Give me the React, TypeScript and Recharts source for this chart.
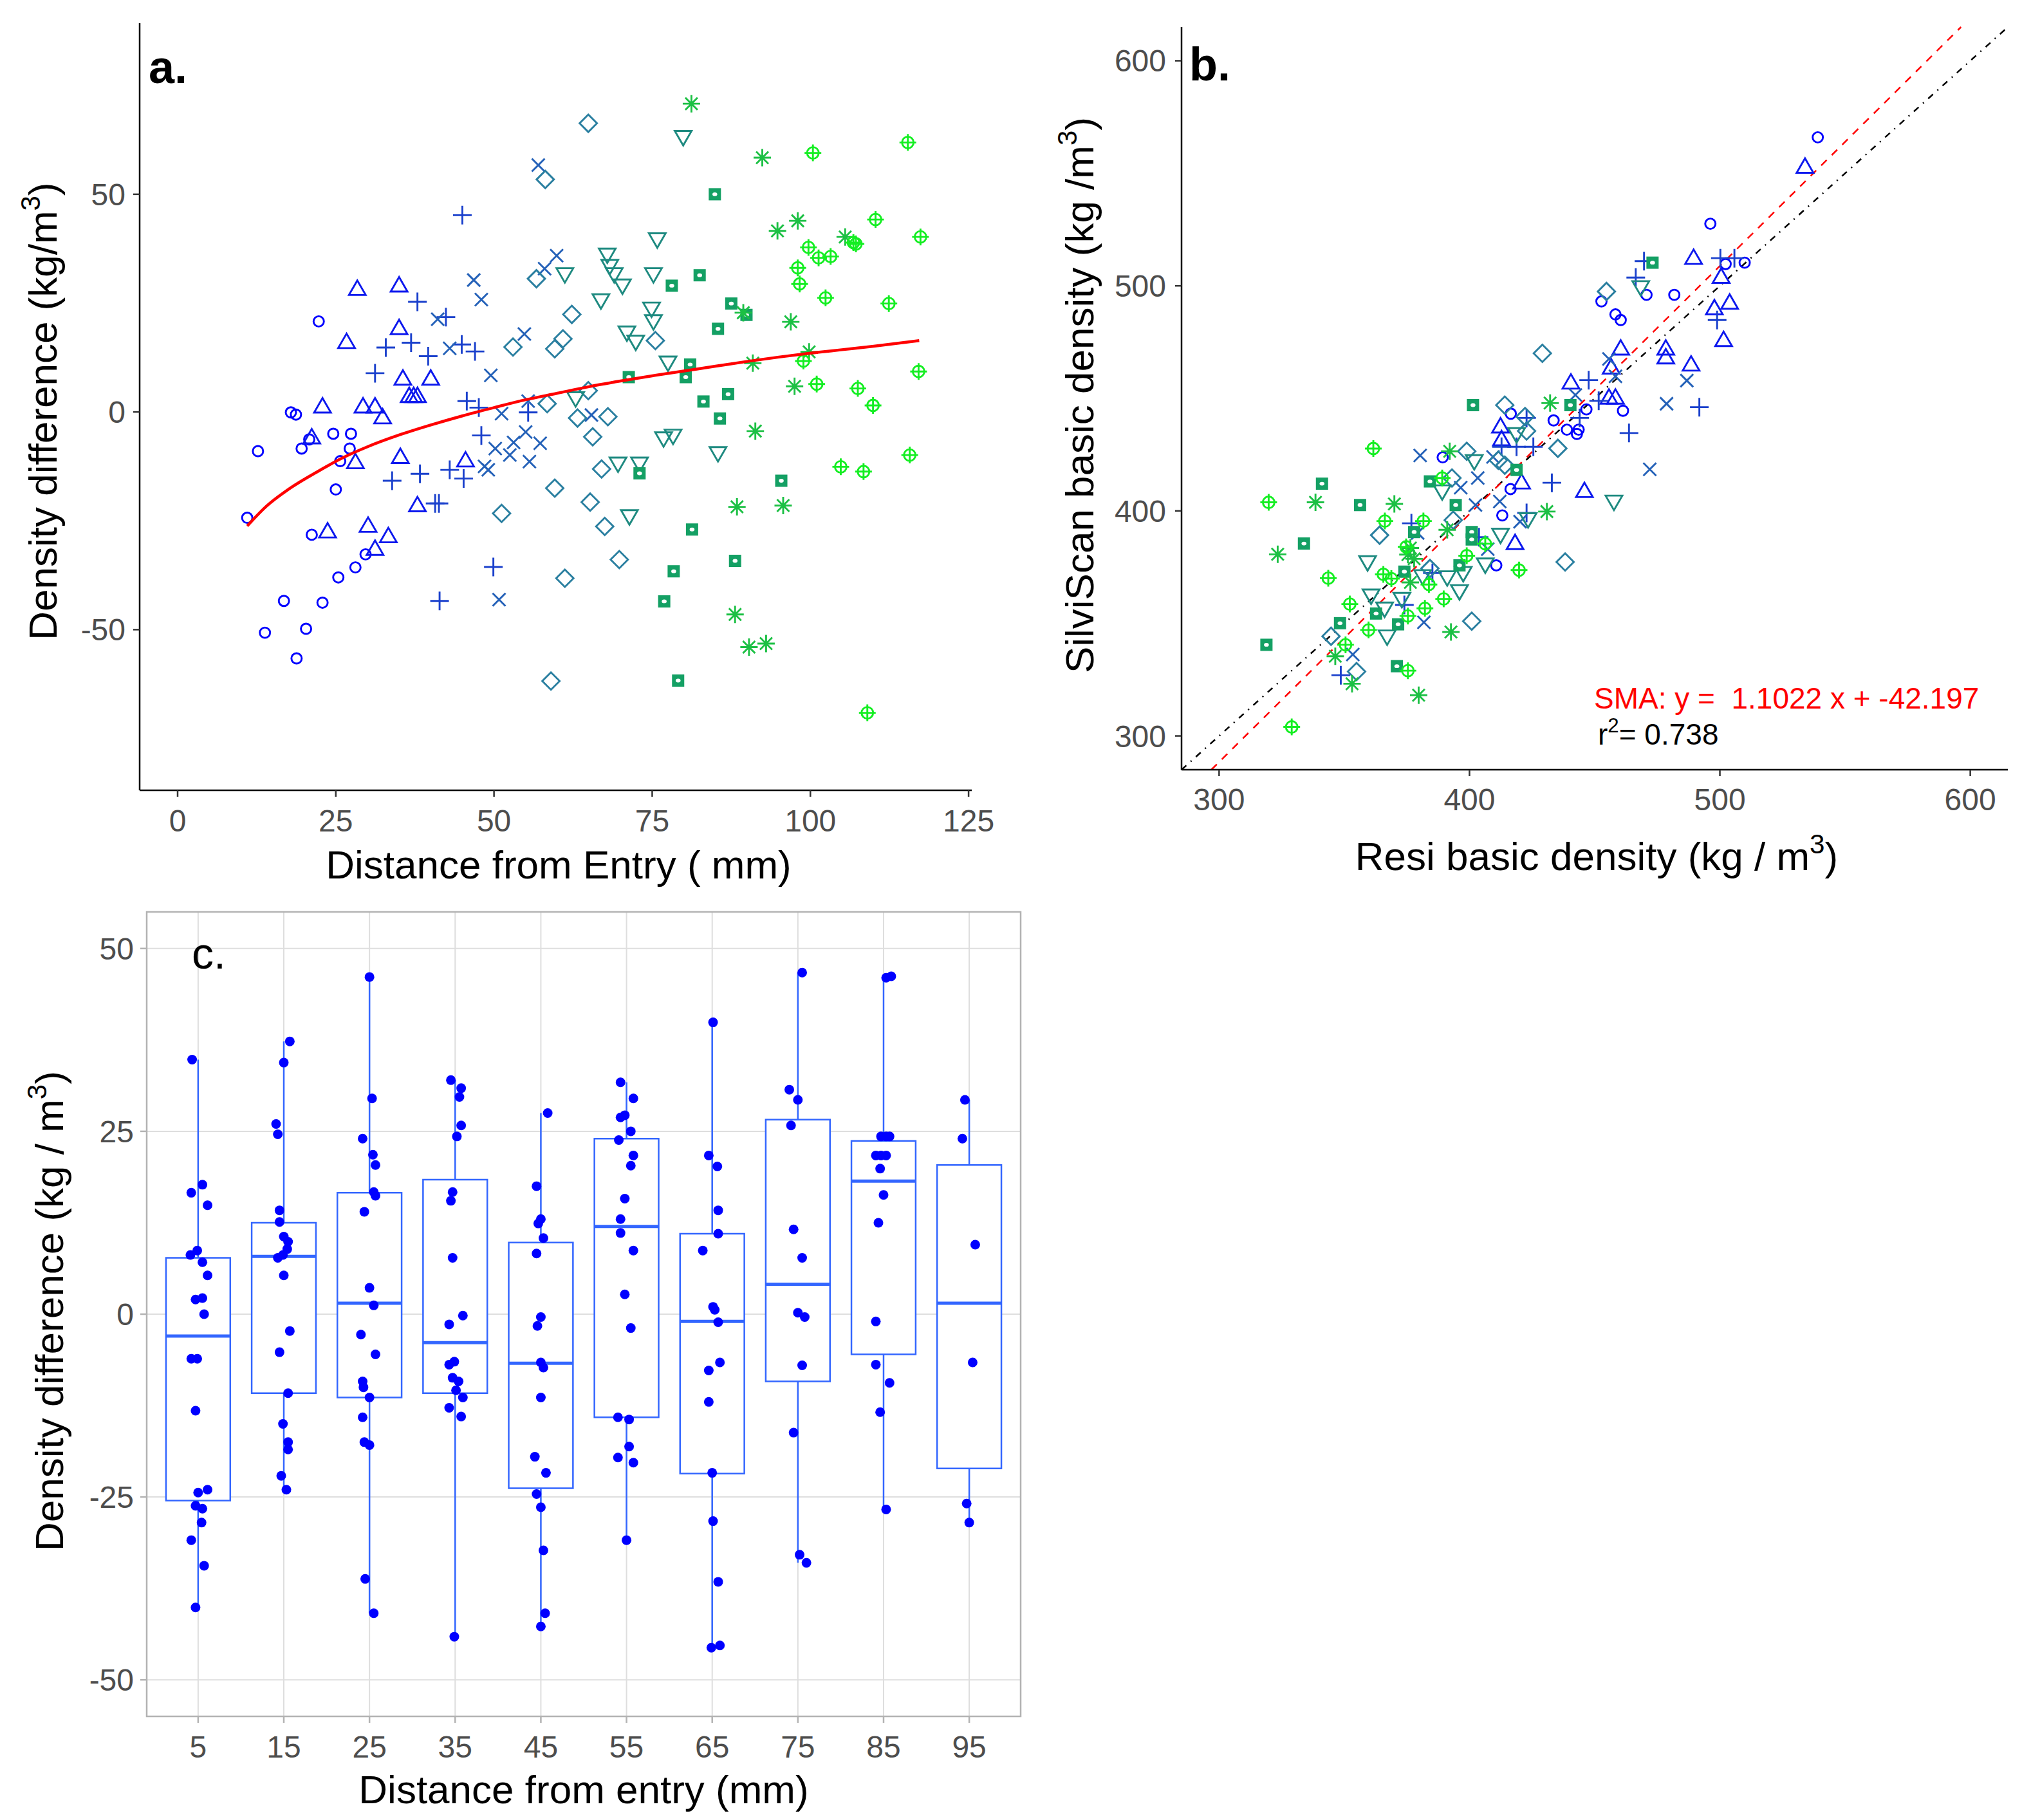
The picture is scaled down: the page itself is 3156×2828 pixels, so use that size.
import { ScatterChart, Scatter, XAxis, YAxis, CartesianGrid, ReferenceLine, ReferenceArea } from 'recharts';

const FONT = '"Liberation Sans", Arial, sans-serif';
const TICK_GREY = '#4D4D4D';

// ---- panel a: distance from entry (mm) vs density difference (kg/m3), one list per marker group
const aCircle = [[11.0, -24.3], [12.7, -9.0], [22.3, 20.8], [17.9, -0.1], [18.7, -0.6], [19.6, -8.4], [20.8, -6.3], [24.6, -5.0], [27.4, -5.0], [27.2, -8.4], [25.7, -11.3], [25.0, -17.8], [21.2, -28.2], [29.7, -32.7], [28.1, -35.7], [25.4, -38.0], [16.8, -43.4], [22.9, -43.8], [13.8, -50.7], [20.3, -49.8], [18.8, -56.6]];
const aTriangle = [[28.4, 28.2], [35.0, 29.0], [35.0, 19.2], [26.7, 16.0], [35.6, 7.6], [40.0, 7.6], [36.6, 3.6], [37.3, 3.6], [37.9, 3.6], [22.9, 1.2], [29.3, 1.2], [31.2, 1.2], [32.4, -1.3], [21.2, -5.9], [28.1, -11.6], [35.2, -10.4], [45.5, -11.2], [37.9, -21.5], [23.7, -27.5], [30.1, -26.2], [33.3, -28.6], [31.2, -31.5]];
const aPlus = [[45.0, 45.2], [37.9, 25.3], [42.4, 21.8], [32.9, 14.8], [36.9, 15.9], [39.6, 12.8], [44.9, 15.5], [47.0, 13.9], [31.2, 8.9], [45.7, 2.5], [47.6, 1.0], [55.4, -0.1], [48.0, -5.4], [33.9, -15.8], [38.3, -14.2], [43.0, -13.3], [45.2, -15.3], [40.7, -21.0], [41.3, -21.0], [49.9, -35.6], [41.4, -43.4]];
const aCross = [[57.0, 56.7], [59.9, 35.9], [58.0, 32.9], [46.8, 30.3], [48.0, 25.8], [41.1, 21.3], [54.8, 17.9], [43.0, 14.6], [49.5, 8.4], [55.4, 2.5], [51.2, -0.4], [55.0, -4.6], [53.1, -7.0], [50.2, -8.4], [52.5, -9.9], [57.3, -7.2], [55.6, -11.4], [48.5, -12.5], [49.1, -13.3], [50.8, -43.1], [65.4, -0.7]];
const aDiamond = [[64.9, 66.3], [58.1, 53.4], [56.7, 30.6], [62.3, 22.4], [53.0, 14.9], [59.6, 14.5], [60.9, 16.8], [75.5, 16.4], [58.4, 1.9], [64.9, 4.9], [63.2, -1.4], [68.0, -1.1], [65.6, -5.7], [51.2, -23.3], [59.6, -17.5], [59.0, -61.8], [67.0, -13.1], [65.2, -20.7], [67.5, -26.3], [69.8, -33.9], [61.2, -38.2]];
const aTriDown = [[79.9, 63.2], [75.8, 39.7], [67.9, 36.2], [68.3, 33.6], [69.0, 31.7], [70.3, 29.1], [61.2, 31.7], [75.2, 31.7], [66.9, 25.7], [74.9, 23.8], [75.2, 20.9], [71.0, 18.3], [72.4, 16.2], [77.5, 11.4], [62.9, 3.2], [76.8, -6.0], [78.3, -5.4], [85.4, -9.4], [69.6, -11.8], [73.0, -11.8], [71.4, -23.9]];
const aSquare = [[84.9, 50.0], [82.5, 31.4], [78.1, 29.0], [87.5, 24.9], [89.9, 22.3], [85.4, 19.1], [71.3, 8.0], [81.0, 10.9], [80.3, 8.0], [87.0, 4.1], [83.1, 2.4], [85.7, -1.5], [73.0, -14.1], [95.4, -15.8], [81.3, -27.0], [88.1, -34.2], [78.4, -36.6], [76.9, -43.5], [79.1, -61.7]];
const aAsterisk = [[81.2, 70.8], [92.4, 58.4], [94.8, 41.6], [98.0, 43.9], [105.5, 40.2], [89.4, 22.8], [96.9, 20.7], [90.9, 11.2], [99.8, 13.8], [97.5, 5.9], [91.3, -4.4], [88.4, -21.8], [95.7, -21.5], [88.1, -46.5], [90.3, -54.0], [93.0, -53.2]];
const aCirclePlus = [[100.4, 59.5], [115.4, 61.9], [110.3, 44.2], [117.4, 40.2], [99.7, 37.8], [101.3, 35.4], [103.2, 35.7], [106.8, 38.9], [107.2, 38.6], [98.0, 33.1], [98.3, 29.4], [102.4, 26.2], [112.4, 24.9], [98.9, 11.7], [117.1, 9.3], [101.0, 6.4], [107.5, 5.4], [109.9, 1.5], [104.8, -12.6], [108.4, -13.7], [115.7, -9.9], [109.0, -69.1]];

// red fitted curve
const aCurveX = [11, 14, 18, 22, 26, 30, 35, 40, 45, 50, 55, 60, 65, 70, 75, 80, 85, 90, 95, 100, 105, 110, 117.2];
const aCurveY = [-26.2, -21.7, -17.3, -13.8, -10.6, -8.0, -5.3, -3.0, -0.9, 1.0, 2.8, 4.3, 5.8, 7.1, 8.3, 9.4, 10.5, 11.6, 12.6, 13.5, 14.3, 15.1, 16.4];

const aXTicks = [0, 25, 50, 75, 100, 125];
const aYTicks = [-50, 0, 50];

// ---- panel b: Resi basic density vs SilviScan basic density (kg/m3)
const bCircle = [[539.1, 566.0], [496.2, 527.6], [502.3, 509.7], [509.9, 510.3], [470.7, 496.0], [481.8, 496.0], [452.7, 493.1], [458.3, 487.3], [460.4, 484.8], [416.5, 443.2], [433.6, 440.2], [438.9, 436.1], [443.6, 436.1], [442.9, 434.2], [446.7, 445.1], [461.3, 444.5], [416.4, 409.7], [413.1, 398.0], [389.3, 423.8], [410.7, 375.8]];
const bTriangle = [[534.0, 552.8], [489.5, 512.3], [500.5, 503.9], [497.8, 489.9], [503.9, 492.4], [501.5, 475.8], [460.4, 472.0], [478.4, 472.0], [478.4, 468.1], [488.5, 464.9], [456.6, 463.6], [440.5, 456.9], [455.7, 450.2], [458.3, 450.2], [412.4, 437.4], [412.8, 431.7], [420.8, 412.5], [445.9, 408.7], [418.2, 385.6]];
const bPlus = [[469.7, 511.0], [500.2, 512.3], [505.8, 512.3], [466.4, 503.7], [498.9, 484.8], [447.6, 458.1], [451.6, 448.9], [444.0, 441.3], [422.8, 441.3], [412.8, 428.5], [418.8, 428.5], [425.5, 428.5], [491.8, 446.1], [463.7, 434.6], [432.9, 412.5], [422.8, 399.1], [376.8, 394.5], [403.8, 388.3], [374.0, 358.2], [385.2, 372.4], [348.6, 327.0]];
const bCross = [[486.8, 457.9], [478.7, 447.6], [472.0, 418.5], [458.3, 459.8], [455.7, 467.5], [442.3, 451.5], [412.1, 404.2], [420.2, 395.2], [409.4, 424.0], [380.3, 424.6], [403.3, 414.6], [396.5, 410.3], [402.4, 402.6], [379.3, 390.2], [407.3, 383.0], [381.8, 350.5], [353.4, 336.2]];
const bDiamond = [[454.7, 497.5], [429.1, 470.0], [414.1, 447.0], [435.3, 427.8], [422.2, 441.9], [422.8, 435.5], [398.9, 426.5], [414.1, 420.3], [411.5, 422.5], [393.0, 414.6], [393.5, 395.9], [364.1, 389.2], [384.2, 374.4], [438.2, 377.3], [400.9, 351.0], [354.9, 328.6], [344.7, 344.3]];
const bTriDown = [[468.4, 499.5], [418.8, 434.2], [457.7, 404.2], [412.4, 389.5], [401.9, 422.2], [389.1, 408.8], [423.4, 396.4], [359.3, 377.3], [406.3, 376.3], [381.3, 371.1], [391.1, 370.6], [397.5, 372.5], [396.0, 364.4], [360.7, 362.5], [366.1, 356.7], [373.0, 361.0], [367.1, 344.3]];
const bSquare = [[473.1, 510.3], [440.3, 447.0], [418.8, 418.2], [401.4, 447.0], [384.2, 413.1], [356.3, 402.6], [394.5, 402.6], [377.9, 390.6], [400.9, 390.6], [400.9, 387.3], [396.0, 375.8], [374.0, 373.0], [362.7, 354.4], [371.5, 349.6], [371.0, 331.0], [341.1, 412.1], [333.9, 385.5], [348.3, 350.1], [318.9, 340.5]];
const bAsterisk = [[432.2, 447.9], [430.9, 399.7], [392.1, 426.5], [370.0, 403.1], [391.1, 391.6], [376.4, 383.5], [375.4, 380.6], [376.4, 368.2], [392.6, 346.2], [377.9, 378.7], [338.5, 403.8], [323.4, 380.7], [346.4, 335.4], [353.1, 323.2], [379.7, 318.1]];
const bCirclePlus = [[319.8, 403.8], [361.6, 427.7], [366.2, 395.5], [381.6, 395.5], [389.1, 414.6], [398.9, 380.1], [343.6, 370.1], [352.2, 358.6], [365.6, 371.8], [368.8, 369.9], [389.7, 360.9], [375.4, 353.3], [359.7, 347.1], [350.5, 340.5], [375.4, 329.0], [419.8, 373.7], [329.0, 304.0], [383.8, 367.3], [374.7, 384.0], [382.2, 356.7], [406.3, 385.4]];

// SMA line (y = 1.1022x - 42.197) and 1:1 line, end points at the panel edges
const bSmaLine = [{ x: 296.9, y: 285 }, { x: 596.3, y: 615 }];
const bOneToOne = [{ x: 285, y: 285 }, { x: 615, y: 615 }];
const bTicks = [300, 400, 500, 600];

// ---- panel c: boxplots by distance from entry
const cCategories = ['5', '15', '25', '35', '45', '55', '65', '75', '85', '95'];
const cLow = [-39.9, -24.0, -40.9, -44.2, -42.7, -30.9, -45.6, -34.0, -26.8, -28.5];
const cQ1 = [-25.5, -10.8, -11.4, -10.8, -23.8, -14.1, -21.8, -9.2, -5.5, -21.1];
const cMedian = [-3.0, 7.9, 1.5, -3.9, -6.7, 12.0, -1.0, 4.1, 18.2, 1.5];
const cQ3 = [7.7, 12.5, 16.6, 18.4, 9.8, 24.0, 11.0, 26.6, 23.7, 20.4];
const cHigh = [34.8, 37.3, 46.1, 32.0, 27.5, 31.7, 39.9, 46.7, 46.1, 29.3];
const cYTicks = [-50, -25, 0, 25, 50];

// jittered points: [offset from category, density difference]
const c05 = [[-0.07, 34.8], [-0.08, 16.6], [0.05, 17.7], [0.11, 14.9], [-0.09, 8.1], [-0.01, 8.7], [0.05, 7.1], [0.11, 5.3], [-0.03, 2.0], [0.05, 2.2], [0.07, 0.0], [-0.08, -6.1], [-0.01, -6.1], [-0.03, -13.2], [0, -24.4], [0.11, -24.0], [-0.03, -26.2], [0.05, -26.6], [0.04, -28.5], [-0.08, -30.9], [0.07, -34.4], [-0.03, -40.1]];
const c15 = [[0.07, 37.3], [0, 34.4], [-0.09, 26.0], [-0.07, 24.6], [-0.05, 14.2], [-0.05, 12.6], [0, 10.6], [0.05, 9.9], [0.04, 8.9], [-0.01, 8.1], [-0.07, 7.7], [0, 5.3], [0.07, -2.3], [-0.05, -5.2], [0.05, -10.8], [-0.01, -15.0], [0.05, -17.5], [0.05, -18.5], [-0.03, -22.1], [0.03, -24.0]];
const c25 = [[0, 46.1], [0.03, 29.5], [-0.08, 24.0], [0.04, 21.8], [0.07, 20.4], [0.05, 16.7], [0.07, 16.2], [-0.06, 14.0], [0, 3.6], [0.05, 1.2], [-0.1, -2.8], [-0.08, -9.2], [-0.07, -10.0], [0, -11.4], [0.07, -5.5], [-0.08, -14.1], [-0.06, -17.5], [0, -17.9], [-0.05, -36.2], [0.05, -40.9]];
const c35 = [[-0.05, 32.0], [0.07, 30.9], [0.05, 29.7], [0.07, 25.8], [0.02, 24.3], [-0.03, 16.7], [-0.05, 15.5], [-0.03, 7.7], [0.09, -0.2], [-0.07, -1.4], [-0.07, -6.9], [-0.01, -6.5], [-0.03, -8.7], [0.04, -9.2], [0.01, -10.4], [0.09, -11.4], [-0.07, -12.8], [0.07, -14.0], [-0.01, -44.1]];
const c45 = [[0.08, 27.5], [-0.05, 17.5], [0, 13.0], [-0.03, 12.4], [0.03, 10.4], [-0.05, 8.3], [0, -0.4], [-0.04, -1.6], [0, -6.6], [0.03, -7.3], [0, -11.4], [-0.07, -19.5], [0.06, -21.7], [-0.05, -24.6], [0, -26.4], [0.03, -32.3], [0.05, -40.9], [0, -42.7]];
const c55 = [[-0.07, 31.7], [0.08, 29.5], [-0.02, 27.2], [-0.07, 26.9], [0.05, 25.0], [-0.09, 23.8], [0.08, 21.7], [0.05, 20.3], [-0.02, 15.8], [-0.07, 13.0], [-0.07, 11.1], [0.08, 8.7], [-0.02, 2.7], [0.05, -1.9], [-0.1, -14.1], [0.03, -14.4], [0.03, -18.1], [-0.1, -19.6], [0.08, -20.3], [0, -30.9]];
const c65 = [[0.01, 39.9], [-0.04, 21.7], [0.06, 20.2], [0.07, 14.2], [0.07, 11.0], [-0.11, 8.7], [0.01, 1.0], [0.03, 0.6], [0.07, -1.1], [0.09, -6.6], [-0.04, -7.7], [-0.04, -12.0], [0, -21.7], [0.01, -28.3], [0.07, -36.6], [-0.01, -45.6], [0.09, -45.3]];
const c75 = [[0.05, 46.7], [-0.1, 30.7], [0, 29.3], [-0.08, 25.8], [-0.05, 11.6], [0.05, 7.7], [0, 0.2], [0.08, -0.4], [0.05, -7.0], [-0.05, -16.2], [0.02, -32.9], [0.1, -34.0]];
const c85 = [[0.03, 46.0], [0.09, 46.2], [-0.03, 24.3], [0.03, 24.3], [0.07, 24.3], [-0.09, 21.7], [-0.03, 21.7], [0.03, 21.7], [-0.04, 19.9], [0, 16.3], [-0.06, 12.5], [-0.09, -1.0], [-0.09, -6.9], [0.07, -9.4], [-0.04, -13.4], [0.03, -26.7]];
const c95 = [[-0.05, 29.3], [-0.08, 24.0], [0.07, 9.5], [0.04, -6.6], [-0.03, -25.9], [0, -28.5]];
const cPointsByCat = [c05, c15, c25, c35, c45, c55, c65, c75, c85, c95];

const BOX_BLUE = '#3366FF';
const BOX_HALF = 0.375;

const groupStyles = [
  { kind: 'circle', color: '#0000FF' },
  { kind: 'triangle', color: '#0C18EE' },
  { kind: 'plus', color: '#1A40CC' },
  { kind: 'cross', color: '#2461B8' },
  { kind: 'diamond', color: '#2A7FA0' },
  { kind: 'triDown', color: '#1E8A80' },
  { kind: 'square', color: '#14A064' },
  { kind: 'asterisk', color: '#1CC044' },
  { kind: 'circlePlus', color: '#14EE22' },
];
const aGroups = [aCircle, aTriangle, aPlus, aCross, aDiamond, aTriDown, aSquare, aAsterisk, aCirclePlus];
const bGroups = [bCircle, bTriangle, bPlus, bCross, bDiamond, bTriDown, bSquare, bAsterisk, bCirclePlus];

const toPts = (arr: number[][]) => arr.map(([x, y]) => ({ x, y }));
const aCurve = aCurveX.map((x, i) => ({ x, y: aCurveY[i] }));
const cPoints = cPointsByCat.flatMap((pts, i) => pts.map(([dx, y]) => ({ x: i + 1 + dx, y })));

function Marker({ kind, color, cx, cy }: { kind: string; color: string; cx: number; cy: number }) {
  const sw = 2.9;
  const line = { stroke: color, strokeWidth: sw, fill: 'none' };
  switch (kind) {
    case 'circle':
      return <circle cx={cx} cy={cy} r={8} {...line} />;
    case 'triangle':
      return <polygon points={`${cx},${cy - 13.5} ${cx - 13},${cy + 9} ${cx + 13},${cy + 9}`} {...line} />;
    case 'plus':
      return <path d={`M${cx - 14.5},${cy}H${cx + 14.5}M${cx},${cy - 14.5}V${cy + 14.5}`} {...line} />;
    case 'cross':
      return <path d={`M${cx - 10},${cy - 10}L${cx + 10},${cy + 10}M${cx - 10},${cy + 10}L${cx + 10},${cy - 10}`} {...line} />;
    case 'diamond':
      return <polygon points={`${cx},${cy - 13.5} ${cx + 13.5},${cy} ${cx},${cy + 13.5} ${cx - 13.5},${cy}`} {...line} />;
    case 'triDown':
      return <polygon points={`${cx - 13},${cy - 9} ${cx + 13},${cy - 9} ${cx},${cy + 13.5}`} {...line} />;
    case 'square':
      return (
        <g>
          <rect x={cx - 9.5} y={cy - 9.5} width={19} height={19} fill={color} />
          <ellipse cx={cx} cy={cy} rx={3.8} ry={2.9} fill="#fff" />
        </g>
      );
    case 'asterisk':
      return (
        <path
          d={`M${cx - 13.5},${cy}H${cx + 13.5}M${cx},${cy - 13.5}V${cy + 13.5}M${cx - 9.5},${cy - 9.5}L${cx + 9.5},${cy + 9.5}M${cx - 9.5},${cy + 9.5}L${cx + 9.5},${cy - 9.5}`}
          {...line}
        />
      );
    case 'circlePlus':
      return (
        <g>
          <circle cx={cx} cy={cy} r={9} {...line} />
          <path d={`M${cx - 13},${cy}H${cx + 13}M${cx},${cy - 13}V${cy + 13}`} {...line} />
        </g>
      );
    default:
      return <g />;
  }
}

const tickStyle = { fill: TICK_GREY, fontSize: 48, fontFamily: FONT };
const classicAxis = { stroke: '#000', strokeWidth: 2.5 };
const classicTick = { stroke: '#333', strokeWidth: 2.5 };

const sup = (t: string) => (
  <span style={{ fontSize: '0.68em', position: 'relative', top: '-0.62em' }}>{t}</span>
);

const titleStyle: any = { position: 'absolute', fontSize: 62, lineHeight: '62px', color: '#000', whiteSpace: 'pre', textAlign: 'center' };

function RotTitle({ cx, cy, children }: { cx: number; cy: number; children: any }) {
  return (
    <div style={{ ...titleStyle, left: cx - 600, top: cy - 31, width: 1200, height: 62, transform: 'rotate(-90deg)', transformOrigin: '50% 50%' }}>
      {children}
    </div>
  );
}

function scatterGroups(groups: number[][][], prefix: string) {
  return groups.map((g, i) => {
    const st = groupStyles[i];
    return (
      <Scatter
        key={prefix + i}
        data={toPts(g)}
        isAnimationActive={false}
        shape={(p: any) => <Marker kind={st.kind} color={st.color} cx={p.cx} cy={p.cy} />}
      />
    );
  });
}

export default function App() {
  return (
    <div style={{ position: 'absolute', left: 0, top: 0, width: 3156, height: 2828, background: '#fff', fontFamily: FONT, overflow: 'hidden' }}>
      {/* panel a */}
      <div style={{ position: 'absolute', left: 0, top: 0 }}>
        <ScatterChart width={1560} height={1350} margin={{ top: 36, right: 50, bottom: 0, left: 0 }}>
          <XAxis type="number" dataKey="x" domain={[-6, 125.5]} ticks={aXTicks} interval={0} allowDataOverflow height={122}
            tickSize={10} tickMargin={20} axisLine={classicAxis} tickLine={classicTick} tick={tickStyle} />
          <YAxis type="number" dataKey="y" domain={[-86.9, 89.3]} ticks={aYTicks} interval={0} allowDataOverflow width={217}
            tickSize={10} tickMargin={12} axisLine={classicAxis} tickLine={classicTick} tick={tickStyle} />
          {scatterGroups(aGroups, 'a')}
          <Scatter data={aCurve} isAnimationActive={false} shape={() => <g />} line={{ stroke: '#FF0000', strokeWidth: 4.5 }} lineJointType="monotoneX" />
        </ScatterChart>
      </div>

      {/* panel b */}
      <div style={{ position: 'absolute', left: 1580, top: 0 }}>
        <ScatterChart width={1576} height={1300} margin={{ top: 42, right: 36, bottom: 0, left: 0 }}>
          <XAxis type="number" dataKey="x" domain={[285, 615]} ticks={bTicks} interval={0} allowDataOverflow height={104}
            tickSize={10} tickMargin={19} axisLine={classicAxis} tickLine={classicTick} tick={tickStyle} />
          <YAxis type="number" dataKey="y" domain={[285, 615]} ticks={bTicks} interval={0} allowDataOverflow width={256}
            tickSize={10} tickMargin={14} axisLine={classicAxis} tickLine={classicTick} tick={tickStyle} />
          {scatterGroups(bGroups, 'b')}
          <ReferenceLine segment={bOneToOne} stroke="#000" strokeWidth={2.5} strokeDasharray="10 9 2 9" ifOverflow="visible" />
          <ReferenceLine segment={bSmaLine} stroke="#FF0000" strokeWidth={2.5} strokeDasharray="12 11" ifOverflow="visible" />
        </ScatterChart>
      </div>

      {/* panel c */}
      <div style={{ position: 'absolute', left: 0, top: 1390 }}>
        <ScatterChart width={1620} height={1400} margin={{ top: 27, right: 34, bottom: 0, left: 0 }}>
          <CartesianGrid stroke="#DEDEDE" strokeWidth={2} />
          <XAxis type="number" dataKey="x" domain={[0.4, 10.6]} ticks={cCategories.map((_, i) => i + 1)} interval={0} allowDataOverflow
            height={123} tickSize={10} tickMargin={20} axisLine={false} tickLine={{ stroke: '#B3B3B3', strokeWidth: 2.5 }} tick={tickStyle}
            tickFormatter={(v: number) => cCategories[Math.round(v) - 1]} />
          <YAxis type="number" dataKey="y" domain={[-55, 55]} ticks={cYTicks} interval={0} allowDataOverflow width={228}
            tickSize={10} tickMargin={10} axisLine={false} tickLine={{ stroke: '#B3B3B3', strokeWidth: 2.5 }} tick={tickStyle} />
          <ReferenceArea x1={0.4} x2={10.6} y1={-55} y2={55} fill="none" stroke="#B3B3B3" strokeWidth={2.5} ifOverflow="visible" />
          {cCategories.flatMap((_, i) => {
            const pos = i + 1;
            return [
              <ReferenceLine key={'wl' + i} segment={[{ x: pos, y: cLow[i] }, { x: pos, y: cQ1[i] }]} stroke={BOX_BLUE} strokeWidth={2.5} ifOverflow="visible" />,
              <ReferenceLine key={'wh' + i} segment={[{ x: pos, y: cQ3[i] }, { x: pos, y: cHigh[i] }]} stroke={BOX_BLUE} strokeWidth={2.5} ifOverflow="visible" />,
              <ReferenceArea key={'bx' + i} x1={pos - BOX_HALF} x2={pos + BOX_HALF} y1={cQ1[i]} y2={cQ3[i]} fill="#fff" fillOpacity={1} stroke={BOX_BLUE} strokeWidth={2.5} ifOverflow="visible" />,
              <ReferenceLine key={'md' + i} segment={[{ x: pos - BOX_HALF, y: cMedian[i] }, { x: pos + BOX_HALF, y: cMedian[i] }]} stroke={BOX_BLUE} strokeWidth={5} ifOverflow="visible" />,
            ];
          })}
          <Scatter data={cPoints} isAnimationActive={false} shape={(p: any) => <circle cx={p.cx} cy={p.cy} r={7.5} fill="#0000FF" />} />
        </ScatterChart>
      </div>

      {/* panel tags */}
      <div style={{ position: 'absolute', left: 231, top: 68, fontSize: 72, lineHeight: '72px', fontWeight: 'bold', color: '#000' }}>a.</div>
      <div style={{ position: 'absolute', left: 1848, top: 64, fontSize: 72, lineHeight: '72px', fontWeight: 'bold', color: '#000' }}>b.</div>
      <div style={{ position: 'absolute', left: 298, top: 1447, fontSize: 68, lineHeight: '68px', color: '#000' }}>c.</div>

      {/* panel b annotation */}
      <div style={{ position: 'absolute', left: 2477, top: 1062, fontSize: 46, lineHeight: '46px', color: '#FF0000', whiteSpace: 'pre' }}>SMA: y =  1.1022 x + -42.197</div>
      <div style={{ position: 'absolute', left: 2483, top: 1118, fontSize: 46, lineHeight: '46px', color: '#000', whiteSpace: 'pre' }}>r{sup('2')}= 0.738</div>

      {/* axis titles */}
      <div style={{ ...titleStyle, left: 868 - 600, top: 1313, width: 1200 }}>Distance from Entry ( mm)</div>
      <RotTitle cx={67} cy={639}>Density difference (kg/m{sup('3')})</RotTitle>

      <div style={{ ...titleStyle, left: 2481 - 600, top: 1300, width: 1200 }}>Resi basic density (kg / m{sup('3')})</div>
      <RotTitle cx={1678} cy={614}>SilviScan basic density (kg /m{sup('3')})</RotTitle>

      <div style={{ ...titleStyle, left: 907 - 600, top: 2750, width: 1200 }}>Distance from entry (mm)</div>
      <RotTitle cx={77} cy={2037}>Density difference (kg / m{sup('3')})</RotTitle>
    </div>
  );
}
